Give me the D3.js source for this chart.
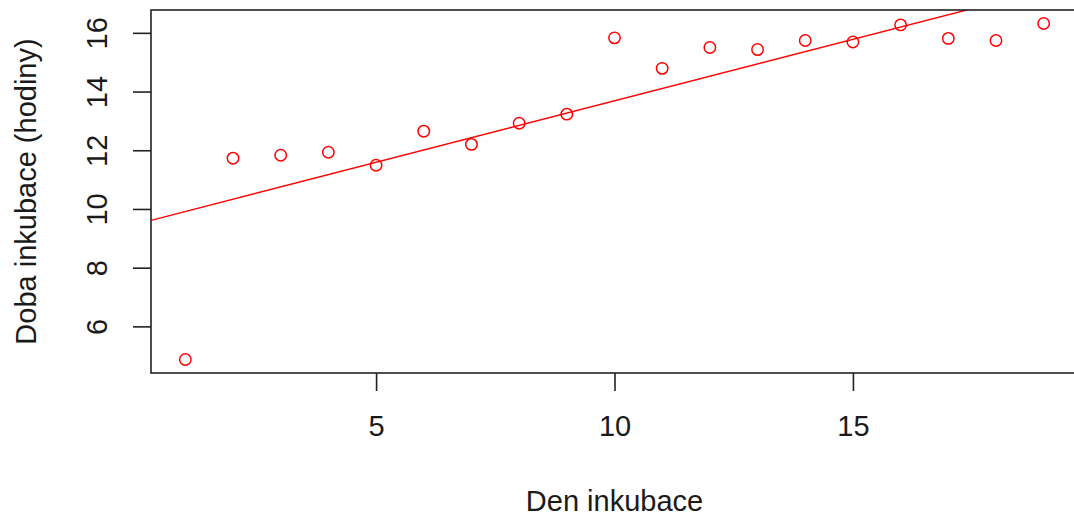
<!DOCTYPE html>
<html>
<head>
<meta charset="utf-8">
<script src="https://cdn.jsdelivr.net/npm/d3@7"></script>
<style>
  html, body { margin: 0; padding: 0; background: #fff; overflow: hidden; }
  svg { display: block; font-family: "Liberation Sans", Arial, sans-serif; }
</style>
</head>
<body>
<svg id="chart" width="1074" height="521"></svg>
<script>
// Incubation day and incubation time (hours)
const days = [1, 2, 3, 4, 5, 6, 7, 8, 9, 10, 11, 12, 13, 14, 15, 16, 17, 18, 19];
const hours = [4.87, 11.73, 11.83, 11.93, 11.49, 12.65, 12.2, 12.92, 13.23, 15.83,
               14.79, 15.5, 15.43, 15.74, 15.69, 16.27, 15.81, 15.74, 16.32];
const xTicks = [5, 10, 15];
const yTicks = [6, 8, 10, 12, 14, 16];
const xTitle = "Den inkubace";
const yTitle = "Doba inkubace (hodiny)";

const svg = d3.select("#chart");
const plot = { left: 151, right: 1078, top: 10, bottom: 373 };

// axis limits padded by 4% on each side
function padded(ext) {
  const p = (ext[1] - ext[0]) * 0.04;
  return [ext[0] - p, ext[1] + p];
}
const x = d3.scaleLinear().domain(padded(d3.extent(days))).range([plot.left, plot.right]);
const y = d3.scaleLinear().domain(padded(d3.extent(hours))).range([plot.bottom, plot.top]);

// least-squares fit of hours on day
const mx = d3.mean(days), my = d3.mean(hours);
const slope = d3.sum(days, (d, i) => (d - mx) * (hours[i] - my)) / d3.sum(days, d => (d - mx) ** 2);
const intercept = my - slope * mx;

svg.append("defs").append("clipPath").attr("id", "clip")
  .append("rect")
  .attr("x", plot.left).attr("y", plot.top)
  .attr("width", plot.right - plot.left).attr("height", plot.bottom - plot.top);

// regression line
const xd = x.domain();
svg.append("line")
  .attr("clip-path", "url(#clip)")
  .attr("x1", x(xd[0])).attr("y1", y(intercept + slope * xd[0]))
  .attr("x2", x(xd[1])).attr("y2", y(intercept + slope * xd[1]))
  .attr("stroke", "#ff0000").attr("stroke-width", 1.4);

// points
svg.append("g").selectAll("circle")
  .data(days)
  .join("circle")
  .attr("cx", d => x(d))
  .attr("cy", (d, i) => y(hours[i]))
  .attr("r", 5.7)
  .attr("fill", "none")
  .attr("stroke", "#ff0000")
  .attr("stroke-width", 1.5);

// frame
svg.append("rect")
  .attr("x", plot.left).attr("y", plot.top)
  .attr("width", plot.right - plot.left).attr("height", plot.bottom - plot.top)
  .attr("fill", "none").attr("stroke", "#222").attr("stroke-width", 1.6);

// axes
const xAxis = d3.axisBottom(x).tickValues(xTicks).tickSize(18).tickPadding(24).tickSizeOuter(0);
const gx = svg.append("g").attr("transform", `translate(0,${plot.bottom})`).call(xAxis);
gx.select(".domain").remove();
gx.selectAll(".tick line").attr("stroke", "#222").attr("stroke-width", 1.6);
gx.selectAll(".tick text").attr("font-size", 29).attr("fill", "#1a1a1a")
  .attr("font-family", "'Liberation Sans', Arial, sans-serif");

const yAxis = d3.axisLeft(y).tickValues(yTicks).tickSize(18).tickSizeOuter(0);
const gy = svg.append("g").attr("transform", `translate(${plot.left},0)`).call(yAxis);
gy.select(".domain").remove();
gy.selectAll(".tick line").attr("stroke", "#222").attr("stroke-width", 1.6);
gy.selectAll(".tick text")
  .attr("font-size", 29).attr("fill", "#1a1a1a")
  .attr("font-family", "'Liberation Sans', Arial, sans-serif")
  .attr("x", null).attr("dy", null)
  .attr("text-anchor", "middle")
  .attr("transform", "translate(-54,0) rotate(-90)")
  .attr("dominant-baseline", "central");

// titles
svg.append("text")
  .attr("x", (plot.left + plot.right) / 2).attr("y", 511)
  .attr("text-anchor", "middle").attr("font-size", 29).attr("fill", "#1a1a1a")
  .text(xTitle);

svg.append("text")
  .attr("transform", `translate(36,${(plot.top + plot.bottom) / 2}) rotate(-90)`)
  .attr("text-anchor", "middle").attr("font-size", 29).attr("fill", "#1a1a1a")
  .text(yTitle);
</script>
</body>
</html>
